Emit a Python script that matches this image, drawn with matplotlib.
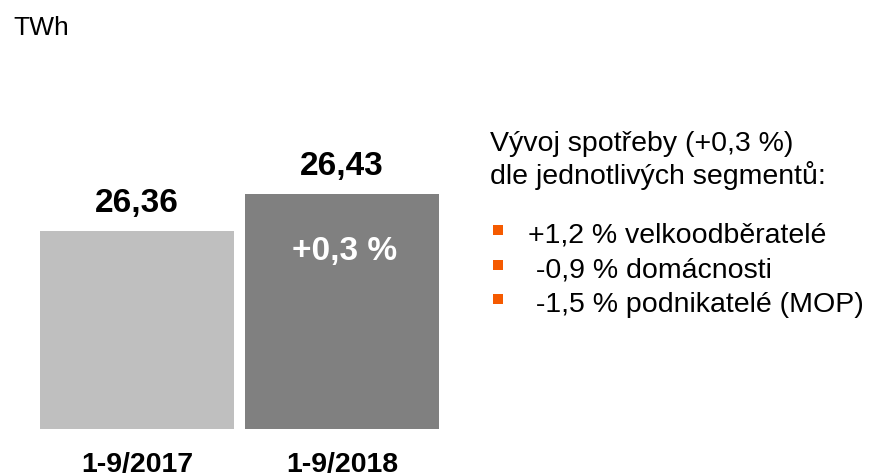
import matplotlib.pyplot as plt
from matplotlib.patches import Rectangle

plt.rcParams['font.family'] = ['Liberation Sans', 'DejaVu Sans']

# data
periods = ['1-9/2017', '1-9/2018']
values = [26.36, 26.43]
value_labels = ['26,36', '26,43']
bar_colors = ['#BFBFBF', '#808080']
change_label = '+0,3 %'
unit = 'TWh'
note_lines = ['Vývoj spotřeby (+0,3 %)', 'dle jednotlivých segmentů:']
segments = ['+1,2 % velkoodběratelé', ' -0,9 % domácnosti', ' -1,5 % podnikatelé (MOP)']

W, H = 876, 475
fig = plt.figure(figsize=(W / 100, H / 100), dpi=100)

# bar axes, placed in pixels
px_left, px_right, px_bottom, px_top = 40, 439, 429, 150
ax = fig.add_axes([px_left / W, 1 - px_bottom / H,
                   (px_right - px_left) / W, (px_bottom - px_top) / H])
width = 194 / 205
ybase = 25.985
scale = 528.6  # px per TWh
ax.bar(range(len(values)), [v - ybase for v in values], bottom=ybase,
       width=width, color=bar_colors)
ax.set_xlim(-width / 2, len(values) - 1 + width / 2)
ax.set_ylim(ybase, ybase + (px_bottom - px_top) / scale)
ax.axis('off')

for i, (v, lab) in enumerate(zip(values, value_labels)):
    ax.annotate(lab, (i, v), xytext=(0, 13.7), textcoords='offset points',
                ha='center', va='baseline', fontsize=24, fontweight='bold')
for i, p in enumerate(periods):
    ax.annotate(p, (i, 0), xycoords=('data', 'axes fraction'),
                xytext=(0, -31), textcoords='offset points',
                ha='center', va='baseline', fontsize=20.5, fontweight='bold')
ax.annotate(change_label, (1, values[1]), xytext=(2, -48), textcoords='offset points',
            ha='center', va='baseline', fontsize=24, fontweight='bold', color='white')

# overlay in pixel coordinates for the side texts
ov = fig.add_axes([0, 0, 1, 1])
ov.set_xlim(0, W)
ov.set_ylim(H, 0)
ov.axis('off')
ov.text(13, 35, unit, fontsize=19, va='baseline')
for k, line in enumerate(note_lines):
    ov.text(490, 151 + k * 33, line, fontsize=20.5, va='baseline')
for k, s in enumerate(segments):
    y = 243 + k * 34.5
    ov.add_patch(Rectangle((493, y - 18), 10, 10, color='#F55A00', lw=0))
    ov.text(528, y, s, fontsize=20.5, va='baseline')

fig.savefig('out.png', dpi=100)
